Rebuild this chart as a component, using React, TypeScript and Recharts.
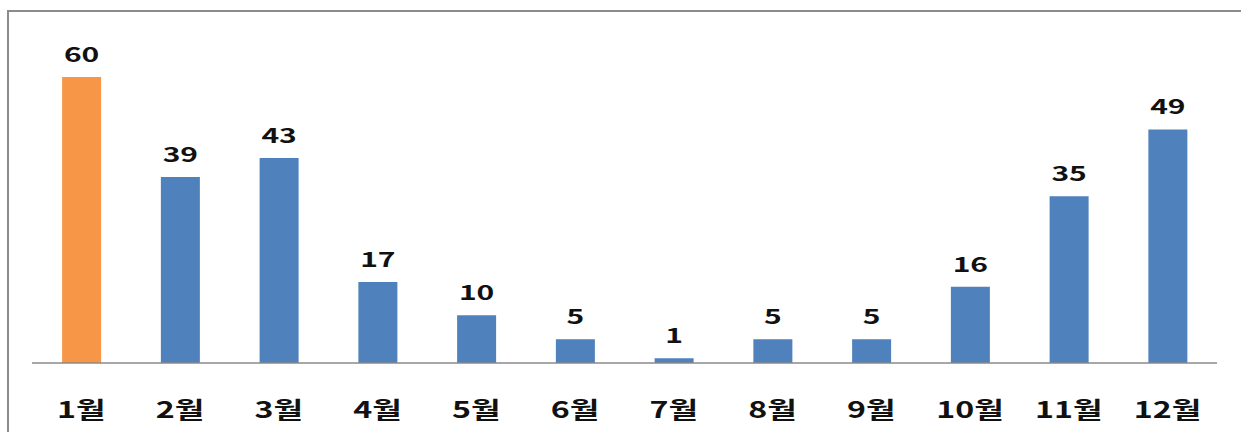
import { BarChart, Bar, XAxis, YAxis, Cell, LabelList } from "recharts";

const months = ["1월", "2월", "3월", "4월", "5월", "6월", "7월", "8월", "9월", "10월", "11월", "12월"];
const counts = [60, 39, 43, 17, 10, 5, 1, 5, 5, 16, 35, 49];
const highlightMonth = "1월";

const data = months.map((m, i) => ({ month: m, count: counts[i] }));

const FONT = "'Noto Sans CJK KR', 'Noto Sans', sans-serif";

// the source image is stretched sideways, so text is widened a bit
const MonthTick = (props: any) => {
  const { x, y, payload } = props;
  return (
    <g transform={`translate(${x},${y})`}>
      <text
        transform="scale(1.4,1)"
        y={45.5}
        textAnchor="middle"
        dominantBaseline="central"
        fill="#111"
        fontSize={23}
        fontWeight={700}
        fontFamily={FONT}
      >
        {payload.value}
      </text>
    </g>
  );
};

const ValueLabel = (props: any) => {
  const { x, y, width, value } = props;
  return (
    <g transform={`translate(${x + width / 2},${y - 15})`}>
      <text
        transform="scale(1.5,1)"
        textAnchor="middle"
        fill="#111"
        fontSize={20}
        fontWeight={700}
        fontFamily={FONT}
      >
        {value}
      </text>
    </g>
  );
};

const App = () => {
  return (
    <div style={{ position: "absolute", left: 0, top: 0, width: 1242, height: 432, background: "#fff" }}>
      <div
        style={{
          position: "absolute",
          left: 7,
          top: 10,
          width: 1234,
          height: 422,
          borderTop: "2px solid #8c8c8c",
          borderLeft: "2px solid #8c8c8c",
          boxSizing: "border-box",
        }}
      />
      <BarChart
        width={1242}
        height={432}
        data={data}
        margin={{ top: 77, right: 25, bottom: 0, left: 32 }}
        barCategoryGap="30.5%"
        style={{ position: "absolute", left: 0, top: 0 }}
      >
        <XAxis
          dataKey="month"
          height={69}
          axisLine={{ stroke: "#8a8a8a", strokeWidth: 1.5 }}
          tickLine={false}
          tickSize={0}
          tickMargin={0}
          interval={0}
          tick={<MonthTick />}
        />
        <YAxis hide domain={[0, 60]} />
        <Bar dataKey="count" isAnimationActive={false}>
          {data.map((d) => (
            <Cell key={d.month} fill={d.month === highlightMonth ? "#F79646" : "#4F81BD"} />
          ))}
          <LabelList dataKey="count" content={<ValueLabel />} />
        </Bar>
      </BarChart>
    </div>
  );
};

export default App;
